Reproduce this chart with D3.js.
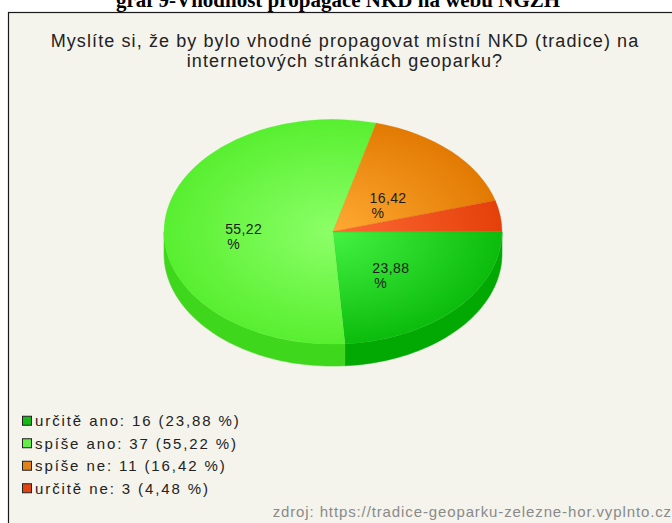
<!DOCTYPE html>
<html>
<head>
<meta charset="utf-8">
<script src="https://cdn.jsdelivr.net/npm/d3@7"></script>
<style>
  html, body { margin: 0; padding: 0; background: #ffffff; }
  svg { display: block; }
</style>
</head>
<body>
<svg id="chart" width="672" height="523"></svg>
<script>
// ---- data ----
const docTitle = "graf 9-Vhodnost propagace NKD na webu NGZH";
const titleLines = ["Myslíte si, že by bylo vhodné propagovat místní NKD (tradice) na", "internetových stránkách geoparku?"];
const categories = ["určitě ano", "spíše ano", "spíše ne", "určitě ne"];
const counts = [16, 37, 11, 3];
const percentLabels = ["23,88", "55,22", "16,42", "4,48"];
const sourceText = "zdroj: https://tradice-geoparku-zelezne-hor.vyplnto.cz";

// ---- styles ----
const topInner = ["#44f244", "#8cff68", "#ffaa33", "#ff6a35"];
const topOuter = ["#0cbc0c", "#58ef30", "#e27a02", "#e4400a"];
const sideCol  = ["#02a902", "#3fd71b", "#c86800", "#c83800"];
const legendCol = ["#14bb14", "#66ee44", "#e08214", "#e24410"];

const svg = d3.select("#chart");

// outer document title (cropped at the top, as in the source page)
svg.append("text")
  .attr("x", 338).attr("y", 7)
  .attr("text-anchor", "middle")
  .attr("font-family", "'Liberation Serif', serif")
  .attr("font-weight", "bold")
  .attr("font-size", 21)
  .attr("fill", "#000")
  .text(docTitle);

// chart frame
svg.append("rect")
  .attr("x", 8.5).attr("y", 12.5)
  .attr("width", 700).attr("height", 540)
  .attr("fill", "#f4f3ec")
  .attr("stroke", "#1a1a1a").attr("stroke-width", 1.2);

// chart title
const tt = svg.append("text")
  .attr("text-anchor", "middle")
  .attr("font-family", "'Liberation Sans', Arial, sans-serif")
  .attr("font-size", 18)
  .attr("letter-spacing", 1.1)
  .attr("fill", "#222");
titleLines.forEach((l, i) => {
  tt.append("tspan").attr("x", 345).attr("y", 47 + i * 19.5).text(l);
});

// ---- 3D pie ----
const cx = 333, cy = 231.7, rx = 169, ry = 112.4, depth = 22;
const pie = d3.pie().sort(null).value(d => d)
  .startAngle(Math.PI / 2).endAngle(Math.PI / 2 + 2 * Math.PI);
const arcs = pie(counts);

// project d3 angle (clockwise from 12 o'clock) on ellipse
const px = (a, k = 1) => cx + rx * k * Math.sin(a);
const py = (a, k = 1) => cy - ry * k * Math.cos(a);

const defs = svg.append("defs");
arcs.forEach((d, i) => {
  const g = defs.append("radialGradient")
    .attr("id", "g" + i)
    .attr("gradientUnits", "userSpaceOnUse")
    .attr("cx", 0).attr("cy", 0).attr("r", rx);
  g.append("stop").attr("offset", "0%").attr("stop-color", topInner[i]);
  g.append("stop").attr("offset", "100%").attr("stop-color", topOuter[i]);
});

// side walls: visible front half, d3 angles between PI/2 and 3PI/2
const sideG = svg.append("g");
arcs.forEach((d, i) => {
  const a0 = Math.max(d.startAngle, Math.PI / 2);
  const a1 = Math.min(d.endAngle, 3 * Math.PI / 2);
  if (a1 <= a0) return;
  const n = 60;
  const top = d3.range(n + 1).map(j => a0 + (a1 - a0) * j / n);
  const pts = top.map(a => [px(a), py(a)])
    .concat(top.slice().reverse().map(a => [px(a), py(a) + depth]));
  sideG.append("path")
    .attr("d", d3.line()(pts) + "Z")
    .attr("fill", sideCol[i])
    .attr("stroke", sideCol[i]).attr("stroke-width", 0.5);
});

// top faces using d3.arc on a circle, squashed into the ellipse
const arcGen = d3.arc().innerRadius(0).outerRadius(rx);
const topG = svg.append("g")
  .attr("transform", `translate(${cx},${cy}) scale(1,${ry / rx})`);
arcs.forEach((d, i) => {
  topG.append("path")
    .attr("d", arcGen(d))
    .attr("fill", `url(#g${i})`)
    .attr("stroke", topOuter[i]).attr("stroke-width", 0.3);
});

// slice labels
const labelG = svg.append("g")
  .attr("font-family", "'Liberation Sans', Arial, sans-serif")
  .attr("font-size", 14)
  .attr("letter-spacing", 0.4)
  .attr("fill", "#1c1c1c");
arcs.forEach((d, i) => {
  if (d.endAngle - d.startAngle < 0.5) return;
  const m = (d.startAngle + d.endAngle) / 2;
  const lx = px(m, 0.504) - 23;
  const ly = py(m, 0.446) + 7;
  const t = labelG.append("text");
  t.append("tspan").attr("x", lx).attr("y", ly).text(percentLabels[i]);
  t.append("tspan").attr("x", lx + 2).attr("y", ly + 15).text("%");
});

// legend
const leg = svg.append("g")
  .attr("font-family", "'Liberation Sans', Arial, sans-serif")
  .attr("font-size", 15)
  .attr("letter-spacing", 1.9)
  .attr("fill", "#222");
const legY = d3.scaleBand().domain(categories).range([409.5, 499.5]);
categories.forEach((c, i) => {
  const y = legY(c) + legY.bandwidth() / 2;
  leg.append("rect")
    .attr("x", 22.5).attr("y", y - 4.5)
    .attr("width", 9).attr("height", 9)
    .attr("fill", legendCol[i])
    .attr("stroke", "#222").attr("stroke-width", 1);
  leg.append("text")
    .attr("x", 35).attr("y", y + 5.5)
    .text(`${c}: ${counts[i]} (${percentLabels[i]} %)`);
});

// source
svg.append("text")
  .attr("x", 672).attr("y", 517)
  .attr("text-anchor", "end")
  .attr("font-family", "'Liberation Sans', Arial, sans-serif")
  .attr("font-size", 15)
  .attr("letter-spacing", 0.88)
  .attr("fill", "#8a8a8a")
  .text(sourceText);
</script>
</body>
</html>
